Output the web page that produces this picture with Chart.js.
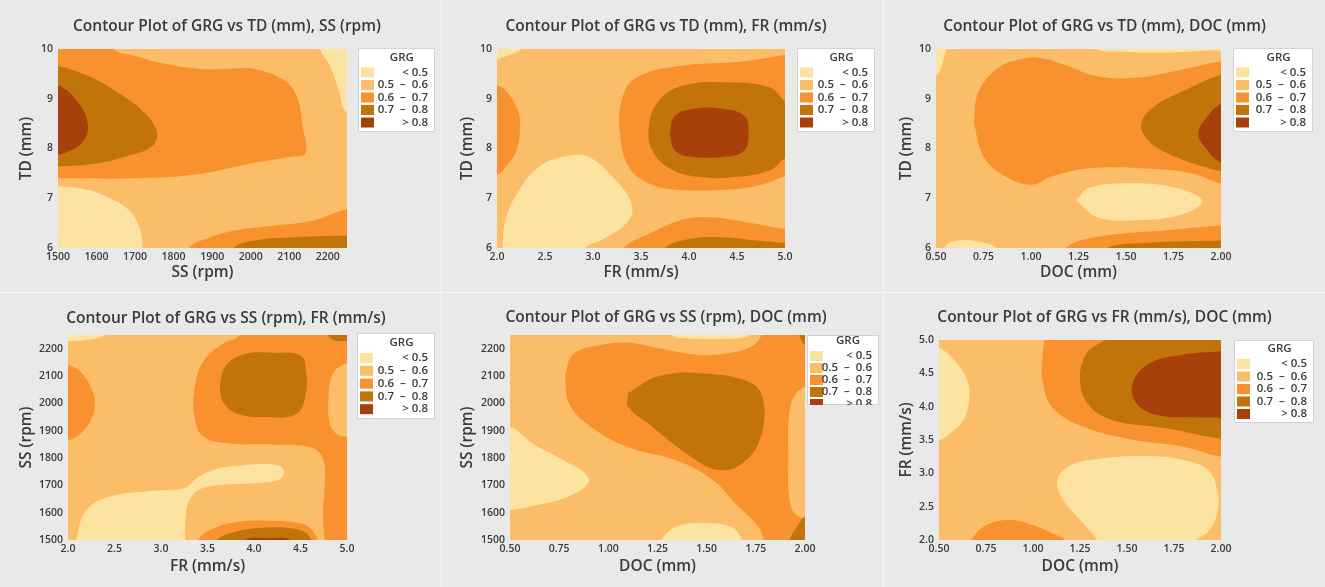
<!DOCTYPE html>
<html>
<head>
<meta charset="utf-8">
<script src="https://cdn.jsdelivr.net/npm/chart.js@4.4.1/dist/chart.umd.min.js"></script>
<style>
  body { margin: 0; background: #f7f7f7; }
  .panel { position: absolute; background: #e9e9e9; }
  canvas { display: block; }
</style>
</head>
<body>
<div class="panel" style="left:0;top:0;width:441px;height:292px"><canvas id="p1" width="441" height="292"></canvas></div>
<div class="panel" style="left:442px;top:0;width:441px;height:292px"><canvas id="p2" width="441" height="292"></canvas></div>
<div class="panel" style="left:884px;top:0;width:441px;height:292px"><canvas id="p3" width="441" height="292"></canvas></div>
<div class="panel" style="left:0;top:293px;width:441px;height:294px"><canvas id="p4" width="441" height="294"></canvas></div>
<div class="panel" style="left:442px;top:293px;width:441px;height:294px"><canvas id="p5" width="441" height="294"></canvas></div>
<div class="panel" style="left:884px;top:293px;width:441px;height:294px"><canvas id="p6" width="441" height="294"></canvas></div>
<script>
// GRG bands, lowest first
var levelLabels = ['< 0.5', '0.5  \u2013  0.6', '0.6  \u2013  0.7', '0.7  \u2013  0.8', '> 0.8'];
var levelColors = ['#fde3a1', '#fcbd69', '#f9912f', '#c17409', '#a8400b'];

// tick values
var tdTicks = [6, 7, 8, 9, 10];
var ssTicks = [1500, 1600, 1700, 1800, 1900, 2000, 2100, 2200];
var frTicks = [2.0, 2.5, 3.0, 3.5, 4.0, 4.5, 5.0];
var docTicks = [0.50, 0.75, 1.00, 1.25, 1.50, 1.75, 2.00];

// contour regions [x, y]; points past the axis limits get clipped away
// TD vs SS
var tdSs_ge06a = [[1440,10.3],[1650,10.3],[1645,10.0],[1700,9.86],[1770,9.72],[1870,9.6],[1960,9.61],[2010,9.6],[2085,9.38],[2120,9.04],[2135,8.44],[2142,7.9],[2100,7.83],[2000,7.7],[1850,7.47],[1700,7.4],[1500,7.4],[1440,7.4]];
var tdSs_ge07a = [[1440,9.7],[1500,9.66],[1580,9.45],[1650,9.15],[1720,8.75],[1756,8.35],[1745,8.05],[1680,7.85],[1600,7.7],[1500,7.64],[1440,7.64]];
var tdSs_ge08 = [[1440,9.3],[1500,9.27],[1550,8.95],[1578,8.45],[1560,8.1],[1520,7.92],[1500,7.88],[1440,7.88]];
var tdSs_ge06b = [[1835,5.7],[1840,6.0],[1890,6.2],[1960,6.35],[2060,6.45],[2160,6.55],[2250,6.78],[2310,6.8],[2310,5.7]];
var tdSs_ge07b = [[1945,5.7],[1955,6.0],[2010,6.15],[2100,6.21],[2250,6.25],[2310,6.25],[2310,5.7]];
var tdSs_lt05a = [[2180,10.3],[2180,10.0],[2207,9.65],[2228,9.18],[2250,8.72],[2310,8.7],[2310,10.3]];
var tdSs_lt05b = [[1440,7.25],[1500,7.24],[1570,7.18],[1630,7.02],[1685,6.75],[1712,6.4],[1720,6.0],[1722,5.7],[1440,5.7]];

// TD vs FR
var tdFr_ge06a = [[1.9,9.3],[2.0,9.28],[2.12,9.1],[2.22,8.75],[2.24,8.4],[2.2,7.95],[2.1,7.65],[2.0,7.47],[1.9,7.45]];
var tdFr_ge06b = [[5.1,9.9],[5.0,9.88],[4.55,9.75],[3.86,9.65],[3.44,9.41],[3.3,8.98],[3.28,8.31],[3.37,7.64],[3.58,7.3],[3.86,7.17],[4.38,7.17],[4.76,7.27],[5.0,7.44],[5.1,7.45]];
var tdFr_ge07a = [[5.1,8.9],[5.0,8.95],[4.85,9.22],[4.4,9.33],[3.95,9.27],[3.68,8.95],[3.58,8.4],[3.62,7.95],[3.8,7.6],[4.1,7.43],[4.5,7.43],[4.85,7.57],[5.0,7.8],[5.1,7.8]];
var tdFr_ge08 = [[3.8,8.3],[3.85,8.65],[4.05,8.8],[4.35,8.8],[4.58,8.65],[4.62,8.3],[4.58,7.97],[4.4,7.84],[4.0,7.84],[3.85,7.97],[3.8,8.3]];
var tdFr_ge06c = [[3.3,5.7],[3.32,6.0],[3.6,6.3],[3.9,6.55],[4.2,6.62],[4.6,6.52],[5.0,6.38],[5.1,6.38],[5.1,5.7]];
var tdFr_ge07b = [[3.72,5.7],[3.75,6.0],[4.0,6.18],[4.3,6.22],[4.7,6.15],[5.0,6.1],[5.1,6.1],[5.1,5.7]];
var tdFr_lt05a = [[1.9,10.3],[2.3,10.3],[2.25,10.0],[2.1,9.86],[2.0,9.8],[1.9,9.8]];
var tdFr_lt05b = [[2.05,5.7],[2.06,6.1],[2.08,6.5],[2.18,7.0],[2.43,7.62],[2.75,7.86],[2.97,7.82],[3.23,7.37],[3.4,6.9],[3.37,6.55],[3.1,6.17],[2.92,6.0],[2.9,5.7]];

// TD vs DOC
var tdDoc_ge06a = [[0.70,8.5],[0.72,9.1],[0.82,9.6],[0.95,9.8],[1.05,9.82],[1.18,9.68],[1.35,9.45],[1.55,9.42],[1.75,9.55],[2.0,9.75],[2.1,9.75],[2.1,7.3],[2.0,7.3],[1.85,7.5],[1.6,7.6],[1.3,7.6],[1.12,7.45],[1.0,7.27],[0.86,7.45],[0.75,7.84],[0.70,8.5]];
var tdDoc_ge07a = [[2.1,9.5],[2.0,9.48],[1.8,9.15],[1.65,8.85],[1.58,8.5],[1.62,8.15],[1.75,7.85],[2.0,7.54],[2.1,7.5]];
var tdDoc_ge08 = [[2.1,8.95],[2.0,8.9],[1.92,8.6],[1.88,8.3],[1.92,8.0],[2.0,7.72],[2.1,7.7]];
var tdDoc_ge06b = [[1.15,5.7],[1.2,6.05],[1.4,6.25],[1.7,6.35],[2.0,6.45],[2.1,6.45],[2.1,5.7]];
var tdDoc_ge07b = [[1.35,5.7],[1.4,6.0],[1.6,6.1],[2.0,6.15],[2.1,6.15],[2.1,5.7]];
var tdDoc_lt05a = [[0.45,10.3],[0.56,10.3],[0.54,9.8],[0.5,9.45],[0.45,9.45]];
var tdDoc_lt05b = [[1.33,10.3],[1.35,10.0],[1.45,9.95],[1.7,9.93],[1.95,9.97],[2.1,10.0],[2.1,10.3]];
var tdDoc_lt05c = [[1.24,6.95],[1.3,7.2],[1.5,7.3],[1.75,7.22],[1.9,6.95],[1.8,6.68],[1.55,6.56],[1.35,6.62],[1.24,6.95]];
var tdDoc_lt05d = [[0.53,5.7],[0.55,6.05],[0.62,6.15],[0.72,6.13],[0.82,6.0],[0.85,5.7]];

// SS vs FR
var ssFr_ge06a = [[1.9,2145],[2.0,2141],[2.15,2110],[2.27,2040],[2.29,2000],[2.25,1940],[2.12,1885],[2.0,1865],[1.9,1865]];
var ssFr_ge06b = [[3.85,2300],[3.85,2250],[3.65,2215],[3.45,2150],[3.36,2050],[3.36,1950],[3.45,1880],[3.7,1855],[4.3,1848],[4.6,1840],[4.74,1800],[4.76,1700],[4.74,1600],[4.76,1500],[4.76,1450],[5.1,1450],[5.1,2300]];
var ssFr_mid = [[5.1,2150],[5.0,2148],[4.85,2110],[4.8,2010],[4.82,1920],[4.9,1885],[5.0,1878],[5.1,1878]];
var ssFr_ge07a = [[4.8,2300],[4.8,2250],[4.85,2232],[5.0,2228],[5.1,2228],[5.1,2300]];
var ssFr_ge07b = [[3.63,2070],[3.7,2140],[3.9,2180],[4.2,2185],[4.5,2175],[4.56,2120],[4.55,2020],[4.45,1960],[4.1,1950],[3.8,1965],[3.66,2010],[3.63,2070]];
var ssFr_ge06c = [[3.38,1450],[3.4,1500],[3.55,1540],[3.8,1565],[4.2,1570],[4.55,1555],[4.66,1520],[4.68,1500],[4.68,1450]];
var ssFr_ge07c = [[3.55,1450],[3.6,1500],[3.8,1530],[4.1,1545],[4.45,1540],[4.6,1510],[4.62,1450]];
var ssFr_ge08 = [[3.85,1450],[3.9,1500],[4.15,1506],[4.4,1500],[4.45,1450]];
var ssFr_lt05a = [[1.9,2300],[2.45,2300],[2.4,2250],[2.2,2232],[2.0,2228],[1.9,2228]];
var ssFr_lt05b = [[2.08,1450],[2.1,1520],[2.2,1610],[2.45,1658],[2.9,1680],[3.25,1690],[3.4,1730],[3.6,1760],[3.85,1772],[4.15,1778],[4.3,1765],[4.3,1728],[4.1,1710],[3.7,1703],[3.45,1690],[3.33,1660],[3.27,1600],[3.26,1500],[3.26,1450]];

// SS vs DOC
var ssDoc_ge06a = [[0.78,2100],[0.82,2180],[0.95,2212],[1.1,2222],[1.27,2200],[1.45,2178],[1.6,2182],[1.72,2205],[1.78,2250],[1.79,2300],[2.1,2300],[2.1,1450],[1.79,1450],[1.79,1500],[1.75,1560],[1.65,1630],[1.53,1720],[1.35,1790],[1.1,1840],[0.9,1920],[0.8,2000],[0.78,2100]];
var ssDoc_mid = [[2.1,2065],[2.0,2062],[1.93,2000],[1.915,1800],[1.93,1620],[2.0,1575],[2.1,1575]];
var ssDoc_ge07a = [[1.95,2300],[1.97,2250],[2.0,2215],[2.1,2215],[2.1,2300]];
var ssDoc_ge07b = [[1.9,1450],[1.92,1500],[1.97,1560],[2.0,1585],[2.1,1590],[2.1,1450]];
var ssDoc_ge07c = [[1.1,2037],[1.25,2098],[1.47,2110],[1.73,2073],[1.79,2000],[1.77,1866],[1.68,1780],[1.56,1756],[1.42,1805],[1.2,1927],[1.1,1988],[1.1,2037]];
var ssDoc_lt05a = [[1.3,2300],[1.32,2250],[1.45,2236],[1.6,2236],[1.72,2250],[1.75,2300]];
var ssDoc_lt05b = [[0.4,1915],[0.5,1915],[0.62,1850],[0.75,1800],[0.88,1745],[0.9,1710],[0.8,1660],[0.65,1630],[0.5,1610],[0.4,1610]];
var ssDoc_lt05c = [[1.25,1450],[1.27,1500],[1.35,1550],[1.5,1562],[1.63,1545],[1.68,1500],[1.7,1450]];

// FR vs DOC
var frDoc_ge06a = [[1.06,5.1],[1.06,5.0],[1.05,4.7],[1.05,4.4],[1.1,4.0],[1.25,3.72],[1.5,3.52],[1.8,3.4],[2.0,3.25],[2.1,3.25],[2.1,5.1]];
var frDoc_ge07 = [[1.4,5.1],[1.38,5.0],[1.29,4.82],[1.25,4.45],[1.29,4.05],[1.42,3.8],[1.7,3.68],[2.0,3.52],[2.1,3.52],[2.1,5.1]];
var frDoc_ge08 = [[2.1,4.85],[2.0,4.83],[1.8,4.78],[1.62,4.65],[1.53,4.35],[1.55,4.05],[1.65,3.88],[1.85,3.84],[2.0,3.83],[2.1,3.83]];
var frDoc_ge06b = [[0.66,1.9],[0.67,2.0],[0.75,2.22],[0.88,2.3],[1.0,2.22],[1.12,2.08],[1.17,2.0],[1.18,1.9]];
var frDoc_lt05a = [[0.4,4.9],[0.5,4.88],[0.58,4.7],[0.65,4.4],[0.66,4.1],[0.63,3.8],[0.56,3.6],[0.5,3.5],[0.4,3.5]];
var frDoc_lt05b = [[1.33,1.9],[1.34,2.0],[1.25,2.3],[1.15,2.65],[1.13,2.9],[1.2,3.12],[1.35,3.22],[1.6,3.26],[1.8,3.2],[1.93,3.05],[1.98,2.75],[1.98,2.4],[1.93,2.12],[1.87,2.0],[1.86,1.9]];

// panels: band 1 (0.5 - 0.6) is the background, layers painted in order on top
var panels = [
  { id: 'p1', title: 'Contour Plot of GRG vs TD (mm), SS (rpm)', xTitle: 'SS (rpm)', yTitle: 'TD (mm)',
    xRange: [1500, 2250], yRange: [6, 10], xTicks: ssTicks, yTicks: tdTicks, xDec: 0, yDec: 0,
    layers: [[2, tdSs_ge06a], [3, tdSs_ge07a], [4, tdSs_ge08], [2, tdSs_ge06b], [3, tdSs_ge07b], [0, tdSs_lt05a], [0, tdSs_lt05b]] },
  { id: 'p2', title: 'Contour Plot of GRG vs TD (mm), FR (mm/s)', xTitle: 'FR (mm/s)', yTitle: 'TD (mm)',
    xRange: [2, 5], yRange: [6, 10], xTicks: frTicks, yTicks: tdTicks, xDec: 1, yDec: 0,
    layers: [[2, tdFr_ge06a], [2, tdFr_ge06b], [3, tdFr_ge07a], [4, tdFr_ge08], [2, tdFr_ge06c], [3, tdFr_ge07b], [0, tdFr_lt05a], [0, tdFr_lt05b]] },
  { id: 'p3', title: 'Contour Plot of GRG vs TD (mm), DOC (mm)', xTitle: 'DOC (mm)', yTitle: 'TD (mm)',
    xRange: [0.5, 2], yRange: [6, 10], xTicks: docTicks, yTicks: tdTicks, xDec: 2, yDec: 0,
    layers: [[2, tdDoc_ge06a], [3, tdDoc_ge07a], [4, tdDoc_ge08], [2, tdDoc_ge06b], [3, tdDoc_ge07b], [0, tdDoc_lt05a], [0, tdDoc_lt05b], [0, tdDoc_lt05c], [0, tdDoc_lt05d]] },
  { id: 'p4', title: 'Contour Plot of GRG vs SS (rpm), FR (mm/s)', xTitle: 'FR (mm/s)', yTitle: 'SS (rpm)',
    xRange: [2, 5], yRange: [1500, 2250], xTicks: frTicks, yTicks: ssTicks, xDec: 1, yDec: 0,
    layers: [[2, ssFr_ge06a], [2, ssFr_ge06b], [1, ssFr_mid], [3, ssFr_ge07a], [3, ssFr_ge07b], [2, ssFr_ge06c], [3, ssFr_ge07c], [4, ssFr_ge08], [0, ssFr_lt05a], [0, ssFr_lt05b]] },
  { id: 'p5', title: 'Contour Plot of GRG vs SS (rpm), DOC (mm)', xTitle: 'DOC (mm)', yTitle: 'SS (rpm)',
    xRange: [0.5, 2], yRange: [1500, 2250], xTicks: docTicks, yTicks: ssTicks, xDec: 2, yDec: 0,
    layers: [[2, ssDoc_ge06a], [1, ssDoc_mid], [3, ssDoc_ge07a], [3, ssDoc_ge07b], [3, ssDoc_ge07c], [0, ssDoc_lt05a], [0, ssDoc_lt05b], [0, ssDoc_lt05c]] },
  { id: 'p6', title: 'Contour Plot of GRG vs FR (mm/s), DOC (mm)', xTitle: 'DOC (mm)', yTitle: 'FR (mm/s)',
    xRange: [0.5, 2], yRange: [2, 5], xTicks: docTicks, yTicks: frTicks, xDec: 2, yDec: 1,
    layers: [[2, frDoc_ge06a], [3, frDoc_ge07], [4, frDoc_ge08], [2, frDoc_ge06b], [0, frDoc_lt05a], [0, frDoc_lt05b]] }
];

// layout of each canvas (px inside the panel)
var frames = {
  p1: { padL: 13, area: [58, 49, 347, 248], titleY: 27, yTitleX: 27, xTitleY: 273, key: { x: 358, y: 48, w: 77, h: 84, step: 12.5, first: 24.5 } },
  p2: { padL: 7,  area: [55, 49, 343, 248], titleY: 27, yTitleX: 26, xTitleY: 273, key: { x: 355, y: 48, w: 78, h: 84, step: 12.5, first: 24.5 } },
  p3: { padL: 0,  area: [52, 49, 337, 248], titleY: 27, yTitleX: 23, xTitleY: 273, key: { x: 349, y: 48, w: 80, h: 84, step: 12.5, first: 24.5 } },
  p4: { padL: 11, area: [68, 42, 347, 247], titleY: 26, yTitleX: 27, xTitleY: 274, key: { x: 357, y: 40, w: 78, h: 86, step: 12.8, first: 25 } },
  p5: { padL: 7,  area: [68, 42, 363, 247], titleY: 25, yTitleX: 26, xTitleY: 274, key: { x: 365, y: 42, w: 72, h: 70, step: 12, first: 21 } },
  p6: { padL: 0,  area: [55, 47, 337, 247], titleY: 25, yTitleX: 23, xTitleY: 274, key: { x: 350, y: 47, w: 80, h: 83, step: 12.5, first: 24 } }
};

var FONT = '"Open Sans", "Noto Sans", sans-serif';
var INK = '#3a3a3a';
var TITLE_SIZE = 15.5;
Chart.defaults.font.family = FONT;
Chart.defaults.color = INK;

// boxed GRG key drawn next to the plot
var grgKey = {
  id: 'grgKey',
  afterDraw: function (chart, args, o) {
    var ctx = chart.ctx;
    ctx.save();
    ctx.fillStyle = '#ffffff';
    ctx.fillRect(o.x, o.y, o.w, o.h);
    ctx.strokeStyle = '#d2d2d2';
    ctx.lineWidth = 1;
    ctx.strokeRect(o.x + 0.5, o.y + 0.5, o.w - 1, o.h - 1);
    ctx.beginPath();
    ctx.rect(o.x, o.y, o.w, o.h);
    ctx.clip();
    ctx.fillStyle = INK;
    ctx.font = '600 11.5px ' + FONT;
    ctx.textBaseline = 'middle';
    ctx.textAlign = 'center';
    ctx.fillText('GRG', o.x + o.w * 0.57, o.y + o.first - 15);
    ctx.textAlign = 'right';
    for (var i = 0; i < levelLabels.length; i++) {
      var cy = o.y + o.first + i * o.step;
      ctx.fillStyle = levelColors[i];
      ctx.fillRect(o.x + 3, cy - 5, 13, 10);
      ctx.fillStyle = INK;
      ctx.fillText(levelLabels[i], o.x + o.w - 7, cy);
    }
    ctx.restore();
  }
};

panels.forEach(function (p) {
  var f = frames[p.id];
  var canvas = document.getElementById(p.id);
  var W = canvas.width, H = canvas.height;
  var a = f.area;
  var half = TITLE_SIZE * 1.2 / 2;

  var xs = p.xRange, ys = p.yRange;
  var dx = (xs[1] - xs[0]) * 0.2, dy = (ys[1] - ys[0]) * 0.2;
  var base = [[xs[0] - dx, ys[0] - dy], [xs[1] + dx, ys[0] - dy], [xs[1] + dx, ys[1] + dy], [xs[0] - dx, ys[1] + dy]];
  var layers = [[1, base]].concat(p.layers);

  var datasets = layers.map(function (l, i) {
    return {
      data: l[1].map(function (pt) { return { x: pt[0], y: pt[1] }; }),
      backgroundColor: levelColors[l[0]],
      borderColor: 'rgba(0,0,0,0)',
      borderWidth: 0,
      pointRadius: 0,
      fill: 'shape',
      tension: i === 0 ? 0 : 0.4,
      order: layers.length - i
    };
  });

  new Chart(canvas.getContext('2d'), {
    type: 'line',
    data: { datasets: datasets },
    plugins: [grgKey],
    options: {
      responsive: false,
      animation: false,
      events: [],
      layout: { padding: { left: f.padL, right: 0, top: 0, bottom: 0 } },
      plugins: {
        legend: { display: false },
        tooltip: { enabled: false },
        title: {
          display: true,
          text: p.title,
          color: INK,
          font: { size: TITLE_SIZE, weight: '600' },
          padding: { top: f.titleY - half, bottom: a[1] - f.titleY - half }
        },
        grgKey: f.key
      },
      scales: {
        x: {
          type: 'linear',
          min: xs[0],
          max: xs[1],
          grid: { display: false, drawTicks: false },
          border: { display: false },
          ticks: {
            padding: 3,
            color: INK,
            font: { size: 10.5, weight: '600' },
            maxRotation: 0,
            callback: function (v) { return Number(v).toFixed(p.xDec); }
          },
          afterBuildTicks: function (s) { s.ticks = p.xTicks.map(function (v) { return { value: v }; }); },
          afterFit: function (s) { s.height = H - a[3]; },
          title: {
            display: true, text: p.xTitle, color: INK,
            font: { size: TITLE_SIZE, weight: '600' },
            padding: { top: 0, bottom: H - f.xTitleY - half }
          }
        },
        y: {
          type: 'linear',
          min: ys[0],
          max: ys[1],
          grid: { display: false, drawTicks: false },
          border: { display: false },
          ticks: {
            padding: 5,
            color: INK,
            font: { size: 10.5, weight: '600' },
            callback: function (v) { return Number(v).toFixed(p.yDec); }
          },
          afterBuildTicks: function (s) { s.ticks = p.yTicks.map(function (v) { return { value: v }; }); },
          afterFit: function (s) { s.width = a[0] - f.padL; },
          title: {
            display: true, text: p.yTitle, color: INK,
            font: { size: TITLE_SIZE, weight: '600' },
            padding: { top: f.yTitleX - f.padL - half, bottom: 0 }
          }
        },
        side: {
          type: 'linear',
          position: 'right',
          display: true,
          grid: { display: false, drawTicks: false },
          border: { display: false },
          ticks: { display: false },
          afterFit: function (s) { s.width = W - a[2]; }
        }
      }
    }
  });
});
</script>
</body>
</html>
